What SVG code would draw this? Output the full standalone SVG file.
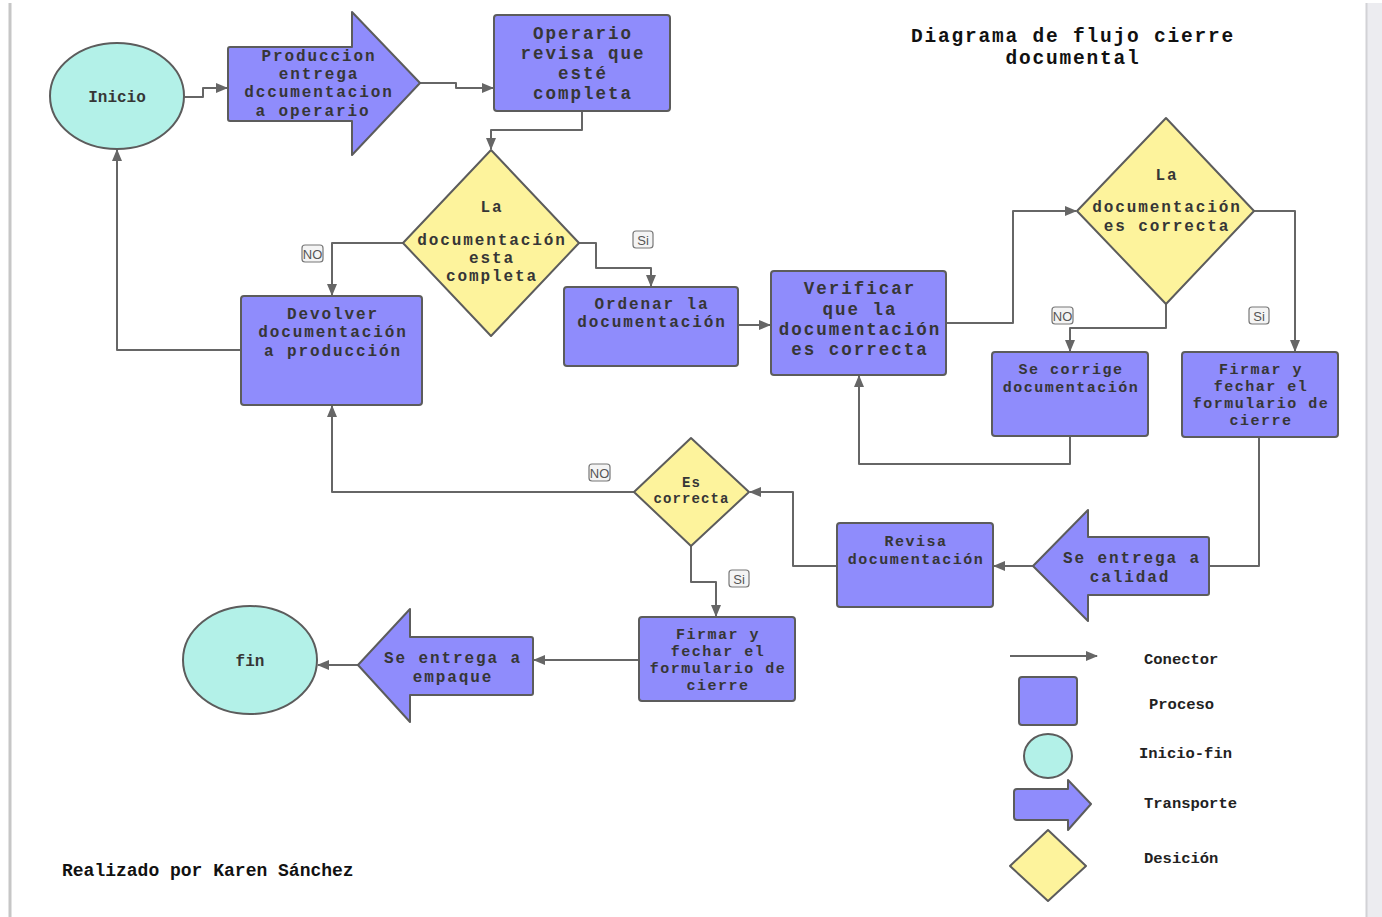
<svg xmlns="http://www.w3.org/2000/svg" width="1382" height="917" viewBox="0 0 1382 917">
  <style>
    .proc { fill: #8f8cfc; stroke: #5c5c5c; stroke-width: 2; }
    .dec { fill: #fdf39c; stroke: #5c5c5c; stroke-width: 2; stroke-linejoin: round; }
    .term { fill: #b3f1e8; stroke: #5c5c5c; stroke-width: 2; }
    .trans { fill: #8f8cfc; stroke: #5c5c5c; stroke-width: 2; stroke-linejoin: round; }
    .conn { fill: none; stroke: #666666; stroke-width: 2; stroke-linejoin: round; }
    text { font-family: "Liberation Mono", "DejaVu Sans Mono", monospace; font-weight: bold; text-anchor: middle; fill: #363636; }
    .t15 { font-size: 14px; letter-spacing: 1.1px; }
    .t16 { font-size: 16px; }
    .t17 { font-size: 15px; letter-spacing: 1.5px; }
    .t19 { font-size: 16px; letter-spacing: 1.9px; }
    .t21 { font-size: 17.5px; letter-spacing: 2px; }
    .title { font-size: 19.5px; letter-spacing: 1.8px; fill: #111111; }
    .credit { font-size: 18px; fill: #111111; text-anchor: start; }
    .legend { font-size: 15.5px; fill: #222222; text-anchor: start; }
    .lbl rect { fill: #f4f4f4; stroke: #777777; stroke-width: 1.2; }
    .lbl text { font-family: "Liberation Sans", Arial, sans-serif; font-weight: normal; font-size: 13px; fill: #555555; letter-spacing: 0; }
  </style>
  <defs>
    <marker id="arr" markerUnits="userSpaceOnUse" markerWidth="12" markerHeight="10" refX="11" refY="5" orient="auto">
      <path d="M0,0 L12,5 L0,10 Z" fill="#666666"/>
    </marker>
  </defs>

  <!-- page -->
  <rect x="0" y="0" width="1382" height="917" fill="#ffffff"/>
  <line x1="10" y1="3" x2="10" y2="917" stroke="#c6c6c6" stroke-width="3"/>
  <rect x="1366" y="3" width="16" height="914" fill="#ececf0"/>
  <line x1="1366.5" y1="3" x2="1366.5" y2="917" stroke="#d2d2d6" stroke-width="2"/>

  <!-- title -->
  <g id="title">
    <text class="title" x="1073" y="42">Diagrama de flujo cierre</text>
    <text class="title" x="1073" y="64">documental</text>
  </g>

  <!-- connectors -->
  <g id="connectors">
    <path class="conn" d="M184,97 L203,97 L203,88 L227,88" marker-end="url(#arr)"/>
    <path class="conn" d="M420,83 L456,83 L456,88 L493,88" marker-end="url(#arr)"/>
    <path class="conn" d="M582,111 L582,130 L491,130 L491,149" marker-end="url(#arr)"/>
    <path class="conn" d="M403,243 L332,243 L332,295" marker-end="url(#arr)"/>
    <path class="conn" d="M579,243 L596,243 L596,268 L651,268 L651,286" marker-end="url(#arr)"/>
    <path class="conn" d="M738,325 L770,325" marker-end="url(#arr)"/>
    <path class="conn" d="M946,323 L1013,323 L1013,211 L1076,211" marker-end="url(#arr)"/>
    <path class="conn" d="M1166,304 L1166,328 L1070,328 L1070,351" marker-end="url(#arr)"/>
    <path class="conn" d="M1254,211 L1295,211 L1295,351" marker-end="url(#arr)"/>
    <path class="conn" d="M1070,436 L1070,464 L859,464 L859,376" marker-end="url(#arr)"/>
    <path class="conn" d="M1259,437 L1259,566 L1209,566"/>
    <path class="conn" d="M1033,566 L994,566" marker-end="url(#arr)"/>
    <path class="conn" d="M837,566 L793,566 L793,492 L750,492" marker-end="url(#arr)"/>
    <path class="conn" d="M634,492 L332,492 L332,406" marker-end="url(#arr)"/>
    <path class="conn" d="M691,546 L691,582 L716,582 L716,616" marker-end="url(#arr)"/>
    <path class="conn" d="M639,660 L534,660" marker-end="url(#arr)"/>
    <path class="conn" d="M358,665 L318,665" marker-end="url(#arr)"/>
    <path class="conn" d="M241,350 L117,350 L117,150" marker-end="url(#arr)"/>
  </g>

  <!-- connector labels -->
  <g id="labels">
    <g class="lbl"><rect x="302" y="245" width="21" height="17" rx="3"/><text x="312.5" y="258.5">NO</text></g>
    <g class="lbl"><rect x="633" y="231" width="20" height="17" rx="3"/><text x="643" y="244.5">Si</text></g>
    <g class="lbl"><rect x="1052" y="307" width="21" height="17" rx="3"/><text x="1062.5" y="320.5">NO</text></g>
    <g class="lbl"><rect x="1249" y="307" width="20" height="17" rx="3"/><text x="1259" y="320.5">Si</text></g>
    <g class="lbl"><rect x="589" y="464" width="21" height="17" rx="3"/><text x="599.5" y="477.5">NO</text></g>
    <g class="lbl"><rect x="729" y="570" width="20" height="17" rx="3"/><text x="739" y="583.5">Si</text></g>
  </g>

  <!-- nodes -->
  <g id="inicio">
    <ellipse class="term" cx="117" cy="96" rx="67" ry="53"/>
    <text class="t16" x="117" y="101.5">Inicio</text>
  </g>

  <g id="produccion-entrega">
    <path class="trans" d="M230,47 L352,47 L352,12 L420,83 L352,155 L352,121 L230,121 Q228,121 228,119 L228,49 Q228,47 230,47 Z"/>
    <text class="t19" x="319" y="60.5">Produccion</text>
    <text class="t19" x="319" y="78.5">entrega</text>
    <text class="t19" x="319" y="97">dccumentacion</text>
    <text class="t19" x="313" y="115.5">a operario</text>
  </g>

  <g id="operario-revisa">
    <rect class="proc" x="494" y="15" width="176" height="96" rx="3"/>
    <text class="t21" x="583" y="39">Operario</text>
    <text class="t21" x="583" y="59">revisa que</text>
    <text class="t21" x="583" y="79">esté</text>
    <text class="t21" x="583" y="99">completa</text>
  </g>

  <g id="decision-completa">
    <path class="dec" d="M491,150 L579,243 L491,336 L403,243 Z"/>
    <text class="t19" x="492" y="211.5">La</text>
    <text class="t19" x="492" y="244.5">documentación</text>
    <text class="t19" x="492" y="262.5">esta</text>
    <text class="t19" x="492" y="280.5">completa</text>
  </g>

  <g id="devolver">
    <rect class="proc" x="241" y="296" width="181" height="109" rx="3"/>
    <text class="t19" x="333" y="318.5">Devolver</text>
    <text class="t19" x="333" y="336.5">documentación</text>
    <text class="t19" x="333" y="356">a producción</text>
  </g>

  <g id="ordenar">
    <rect class="proc" x="564" y="287" width="174" height="79" rx="3"/>
    <text class="t19" x="652" y="308.5">Ordenar la</text>
    <text class="t19" x="652" y="326.5">documentación</text>
  </g>

  <g id="verificar">
    <rect class="proc" x="771" y="271" width="175" height="104" rx="3"/>
    <text class="t21" x="860" y="294">Verificar</text>
    <text class="t21" x="860" y="315">que la</text>
    <text class="t21" x="860" y="335">documentación</text>
    <text class="t21" x="860" y="355">es correcta</text>
  </g>

  <g id="decision-correcta">
    <path class="dec" d="M1166,118 L1254,211 L1166,304 L1077,211 Z"/>
    <text class="t19" x="1167" y="179.5">La</text>
    <text class="t19" x="1167" y="211.5">documentación</text>
    <text class="t19" x="1167" y="230.5">es correcta</text>
  </g>

  <g id="se-corrige">
    <rect class="proc" x="992" y="352" width="156" height="84" rx="3"/>
    <text class="t17" x="1071" y="373.5">Se corrige</text>
    <text class="t17" x="1071" y="391.5">documentación</text>
  </g>

  <g id="firmar-1">
    <rect class="proc" x="1182" y="352" width="156" height="85" rx="3"/>
    <text class="t17" x="1261" y="373.5">Firmar y</text>
    <text class="t17" x="1261" y="390.5">fechar el</text>
    <text class="t17" x="1261" y="407.5">formulario de</text>
    <text class="t17" x="1261" y="425">cierre</text>
  </g>

  <g id="entrega-calidad">
    <path class="trans" d="M1207,537 L1088,537 L1088,510 L1033,566 L1088,621 L1088,595 L1207,595 Q1209,595 1209,593 L1209,539 Q1209,537 1207,537 Z"/>
    <text class="t19" x="1132" y="562.5">Se entrega a</text>
    <text class="t19" x="1130" y="581.5">calidad</text>
  </g>

  <g id="revisa">
    <rect class="proc" x="837" y="523" width="156" height="84" rx="3"/>
    <text class="t17" x="916" y="545.5">Revisa</text>
    <text class="t17" x="916" y="563.5">documentación</text>
  </g>

  <g id="decision-es-correcta">
    <path class="dec" d="M691,438 L749,492 L691,546 L634,492 Z"/>
    <text class="t15" x="691.5" y="487">Es</text>
    <text class="t15" x="691.5" y="503">correcta</text>
  </g>

  <g id="firmar-2">
    <rect class="proc" x="639" y="617" width="156" height="84" rx="3"/>
    <text class="t17" x="718" y="638.5">Firmar y</text>
    <text class="t17" x="718" y="655.5">fechar el</text>
    <text class="t17" x="718" y="672.5">formulario de</text>
    <text class="t17" x="718" y="689.5">cierre</text>
  </g>

  <g id="entrega-empaque">
    <path class="trans" d="M531,637 L410,637 L410,609 L358,665 L410,722 L410,695 L531,695 Q533,695 533,693 L533,639 Q533,637 531,637 Z"/>
    <text class="t19" x="453" y="662.5">Se entrega a</text>
    <text class="t19" x="453" y="681.5">empaque</text>
  </g>

  <g id="fin">
    <ellipse class="term" cx="250" cy="660" rx="67" ry="54"/>
    <text class="t16" x="250" y="665.5">fin</text>
  </g>

  <!-- legend -->
  <g id="legend">
    <path class="conn" d="M1010,656 L1097,656" marker-end="url(#arr)"/>
    <text class="legend" x="1144" y="664">Conector</text>
    <rect class="proc" x="1019" y="677" width="58" height="48" rx="3"/>
    <text class="legend" x="1149" y="709">Proceso</text>
    <ellipse class="term" cx="1048" cy="756" rx="24" ry="22"/>
    <text class="legend" x="1139" y="758">Inicio-fin</text>
    <path class="trans" d="M1017,789 L1068,789 L1068,780 L1091,804 L1068,830 L1068,820 L1017,820 Q1014,820 1014,817 L1014,792 Q1014,789 1017,789 Z"/>
    <text class="legend" x="1144" y="808">Transporte</text>
    <path class="dec" d="M1048,830 L1086,866 L1048,901 L1010,866 Z"/>
    <text class="legend" x="1144" y="863">Desición</text>
  </g>

  <text class="credit" x="62" y="876">Realizado por Karen Sánchez</text>
</svg>
